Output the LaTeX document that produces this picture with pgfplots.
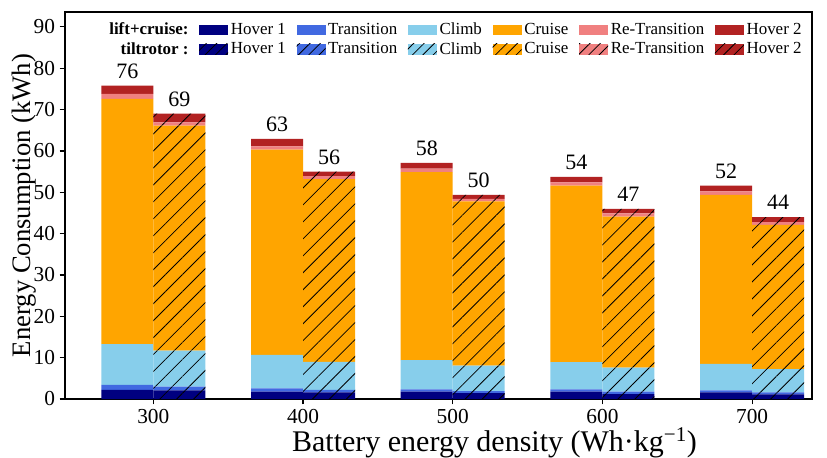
\documentclass[border=0pt]{standalone}
\usepackage{fontspec}
\setmainfont{Liberation Serif}
\usepackage{calc}
\usepackage{pgfplots}
\pgfplotsset{compat=1.18}
\usepackage{pgfplotstable}
\usetikzlibrary{patterns.meta}

\definecolor{cnavy}{RGB}{0,0,128}
\definecolor{croyal}{RGB}{65,105,225}
\definecolor{csky}{RGB}{135,206,235}
\definecolor{corange}{RGB}{255,165,0}
\definecolor{ccoral}{RGB}{240,128,128}
\definecolor{cfire}{RGB}{178,34,34}

% lift+cruise
\pgfplotstableread{
x   h1  tr  cl  cr   rt  h2
300 2.2 1.2 9.9 59.3 1.2 2.0
400 1.8 0.8 8.1 49.6 0.8 1.8
500 1.8 0.5 7.1 45.5 0.8 1.4
600 1.8 0.5 6.6 42.7 0.8 1.3
700 1.6 0.5 6.4 40.9 0.8 1.4
}\lctable
% tiltrotor
\pgfplotstableread{
x   h1  tr  cl  cr   rt  h2
300 2.1 0.9 8.7 54.4 0.8 2.1
400 1.6 0.6 6.8 44.2 0.7 1.1
500 1.4 0.5 6.2 39.7 0.6 1.0
600 1.2 0.6 5.8 36.5 0.8 1.1
700 1.1 0.5 5.6 34.9 0.7 1.2
}\tttable

\tikzset{hatch/.style={postaction={pattern={Lines[angle=45,distance=9pt,line width=0.6pt]},pattern color=black}}}
\tikzset{lhatch/.style={postaction={pattern={Lines[angle=45,distance=5.5pt,line width=0.6pt]},pattern color=black}}}

\pgfplotsset{
  base/.style={
    width=560.25pt, height=290.25pt, scale only axis,
    xmin=241, xmax=740, ymin=0, ymax=93.6,
    ybar stacked, bar width=39pt,
    at={(0,0)}, anchor=south west,
  },
}

\newcommand{\legfont}{\fontsize{12.7}{14}\selectfont}

\begin{document}
\begin{tikzpicture}
\begin{axis}[base,
  axis line style={line width=1.2pt},
  tick pos=left, tick align=outside,
  major tick length=4pt,
  every tick/.style={black, line width=0.9pt},
  xtick={300,400,500,600,700},
  ytick={0,10,...,90},
  /pgf/number format/assume math mode=true,
  ticklabel style={font=\fontsize{16}{19}\selectfont},
  xlabel={Battery energy density (Wh·kg\textsuperscript{−1})},
  ylabel={Energy Consumption (kWh)},
  xlabel style={font=\fontsize{22.5}{26}\selectfont, at={(axis description cs:0.575,-0.112)}, anchor=center},
  ylabel style={font=\fontsize{20}{24}\selectfont, at={(axis description cs:-0.055,0.5)}, anchor=center},
  legend columns=7,
  legend style={draw=none, fill=none, at={(axis description cs:0.99,0.979)}, anchor=north east,
    font=\legfont, inner sep=0pt, row sep=0pt,
    /tikz/every even column/.append style={column sep=6pt}},
  legend image code/.code={\path[#1] (0pt,-4.1pt) rectangle (21.75pt,4.1pt);},
]
\addlegendimage{empty legend}
\addlegendentry{\makebox[\widthof{\legfont\bfseries lift+cruise:}][r]{\bfseries lift+cruise:}}
\addlegendimage{fill=cnavy, draw=none}\addlegendentry{Hover 1}
\addlegendimage{fill=croyal, draw=none}\addlegendentry{Transition}
\addlegendimage{fill=csky, draw=none}\addlegendentry{Climb}
\addlegendimage{fill=corange, draw=none}\addlegendentry{Cruise}
\addlegendimage{fill=ccoral, draw=none}\addlegendentry{Re-Transition}
\addlegendimage{fill=cfire, draw=none}\addlegendentry{Hover 2}
\addlegendimage{empty legend}
\addlegendentry{\makebox[\widthof{\legfont\bfseries lift+cruise:}][r]{\bfseries tiltrotor :}}
\addlegendimage{fill=cnavy, draw=none, lhatch}\addlegendentry{Hover 1}
\addlegendimage{fill=croyal, draw=none, lhatch}\addlegendentry{Transition}
\addlegendimage{fill=csky, draw=none, lhatch}\addlegendentry{Climb}
\addlegendimage{fill=corange, draw=none, lhatch}\addlegendentry{Cruise}
\addlegendimage{fill=ccoral, draw=none, lhatch}\addlegendentry{Re-Transition}
\addlegendimage{fill=cfire, draw=none, lhatch}\addlegendentry{Hover 2}

\addplot[fill=cnavy, draw=none, bar shift=-19.5pt] table[x=x,y=h1]{\lctable};
\addplot[fill=croyal, draw=none, bar shift=-19.5pt] table[x=x,y=tr]{\lctable};
\addplot[fill=csky, draw=none, bar shift=-19.5pt] table[x=x,y=cl]{\lctable};
\addplot[fill=corange, draw=none, bar shift=-19.5pt] table[x=x,y=cr]{\lctable};
\addplot[fill=ccoral, draw=none, bar shift=-19.5pt] table[x=x,y=rt]{\lctable};
\addplot[fill=cfire, draw=none, bar shift=-19.5pt] table[x=x,y=h2]{\lctable};
\end{axis}

\begin{axis}[base, hide axis]
\addplot[fill=cnavy, draw=none, bar shift=19.5pt, hatch] table[x=x,y=h1]{\tttable};
\addplot[fill=croyal, draw=none, bar shift=19.5pt, hatch] table[x=x,y=tr]{\tttable};
\addplot[fill=csky, draw=none, bar shift=19.5pt, hatch] table[x=x,y=cl]{\tttable};
\addplot[fill=corange, draw=none, bar shift=19.5pt, hatch] table[x=x,y=cr]{\tttable};
\addplot[fill=ccoral, draw=none, bar shift=19.5pt, hatch] table[x=x,y=rt]{\tttable};
\addplot[fill=cfire, draw=none, bar shift=19.5pt, hatch] table[x=x,y=h2]{\tttable};

\tikzset{lbl/.style={anchor=base, yshift=5.6pt, inner sep=0pt, font=\fontsize{16.5}{19}\selectfont}}
\node[lbl] at (axis cs:282.65,75.8) {76};
\node[lbl] at (axis cs:317.35,69.0) {69};
\node[lbl] at (axis cs:382.65,62.9) {63};
\node[lbl] at (axis cs:417.35,55.0) {56};
\node[lbl] at (axis cs:482.65,57.1) {58};
\node[lbl] at (axis cs:517.35,49.4) {50};
\node[lbl] at (axis cs:582.65,53.7) {54};
\node[lbl] at (axis cs:617.35,46.0) {47};
\node[lbl] at (axis cs:682.65,51.6) {52};
\node[lbl] at (axis cs:717.35,44.0) {44};
\end{axis}
\pgfresetboundingbox
\path (-48.75pt,-43.5pt) rectangle (571.5pt,299.25pt);
\end{tikzpicture}
\end{document}
